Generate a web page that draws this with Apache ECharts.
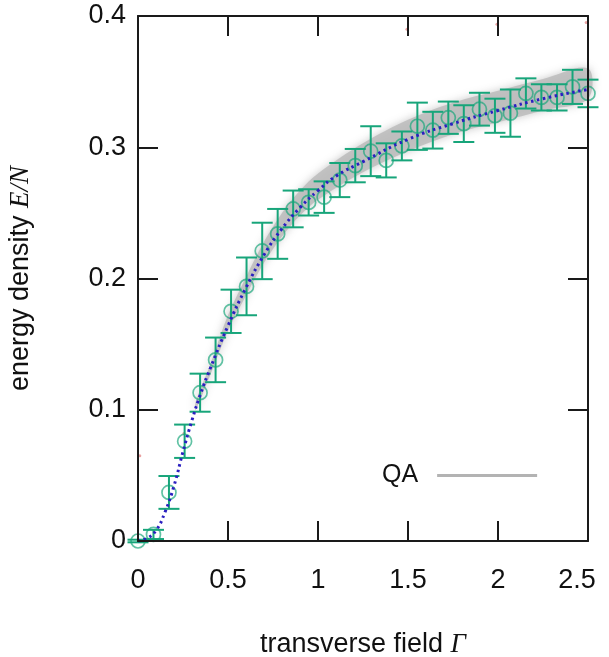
<!DOCTYPE html>
<html>
<head>
<meta charset="utf-8">
<script src="https://cdn.jsdelivr.net/npm/echarts@6/dist/echarts.min.js"></script>
<style>
  html, body { margin: 0; padding: 0; background: #fff; }
  #chart { width: 609px; height: 657px; }
</style>
</head>
<body>
<div id="chart"></div>
<script>
// Transverse field values of the sampled points
const fieldX = [0, 0.086, 0.172, 0.259, 0.345, 0.431, 0.517, 0.603, 0.690, 0.776,
  0.862, 0.948, 1.034, 1.121, 1.207, 1.293, 1.379, 1.466, 1.552, 1.638,
  1.724, 1.810, 1.897, 1.983, 2.069, 2.155, 2.241, 2.328, 2.414, 2.5];
// Measured energy density E/N and its uncertainty
const energy = [0, 0.005, 0.037, 0.076, 0.113, 0.138, 0.175, 0.194, 0.221, 0.234,
  0.253, 0.258, 0.262, 0.275, 0.286, 0.297, 0.290, 0.301, 0.316, 0.313,
  0.3225, 0.318, 0.329, 0.324, 0.326, 0.341, 0.338, 0.338, 0.346, 0.341];
const energyErr = [0.001, 0.0035, 0.0125, 0.0127, 0.0145, 0.017, 0.0165, 0.022, 0.0215, 0.019,
  0.014, 0.010, 0.012, 0.013, 0.0127, 0.019, 0.013, 0.011, 0.018, 0.014,
  0.0123, 0.014, 0.0125, 0.013, 0.018, 0.0115, 0.010, 0.010, 0.013, 0.0105];

// Reference curve (blue dotted)
const curveX = [0, 0.05, 0.1, 0.15, 0.2, 0.25, 0.3, 0.35, 0.4, 0.5, 0.6, 0.7, 0.8, 0.9,
  1.0, 1.1, 1.25, 1.5, 1.75, 2.0, 2.25, 2.5];
const curveY = [0, 0.002, 0.008, 0.022, 0.042, 0.068, 0.092, 0.113, 0.131, 0.164, 0.193, 0.218, 0.238, 0.254,
  0.267, 0.278, 0.289, 0.306, 0.318, 0.328, 0.337, 0.344];

// QA spread (gray band): lower and upper edges
const qaX  = [0.32, 0.4, 0.5, 0.6, 0.7, 0.8, 0.9, 1.0, 1.25, 1.5, 1.75, 2.0, 2.25, 2.5];
const qaLo = [0.100, 0.126, 0.160, 0.187, 0.212, 0.232, 0.248, 0.260, 0.281, 0.297, 0.310, 0.319, 0.328, 0.337];
const qaHi = [0.106, 0.134, 0.172, 0.201, 0.228, 0.250, 0.267, 0.280, 0.303, 0.321, 0.334, 0.343, 0.352, 0.360];

// Stray points of a further data set
const strayX = [0.01, 0.255, 1.494, 1.994, 2.49];
const strayY = [0.065, 0.082, 0.390, 0.3937, 0.395];

// Axis ticks
const xTicks = [0, 0.5, 1, 1.5, 2, 2.5];
const yTicks = [0, 0.1, 0.2, 0.3, 0.4];

const green = '#17a57a';
const blue = '#2a1fc0';
const frame = '#1a1a1a';
const qaGray = '#b3b3b3';
const fontMain = 'Liberation Sans';

const errData = fieldX.map((x, i) => [x, energy[i] - energyErr[i], energy[i] + energyErr[i]]);
const pointData = fieldX.map((x, i) => [x, energy[i]]);
const curveData = curveX.map((x, i) => [x, curveY[i]]);
const strayData = strayX.map((x, i) => [x, strayY[i]]);

const chart = echarts.init(document.getElementById('chart'), null, { renderer: 'canvas' });

const axisCommon = {
  axisLine: { show: true, onZero: false, lineStyle: { color: frame, width: 2 } },
  axisTick: { show: true, inside: true, length: 20, lineStyle: { color: frame, width: 2 } },
  splitLine: { show: false },
  z: 10
};

const titleStyle = {
  fontFamily: fontMain, fontSize: 27, color: '#111',
  rich: { it: { fontFamily: 'Liberation Serif', fontStyle: 'italic', fontSize: 27, color: '#111' } }
};

chart.setOption({
  animation: false,
  backgroundColor: '#fff',
  grid: { left: 138, right: 21, top: 16, bottom: 116, outerBoundsMode: 'none' },
  legend: {
    left: 377, top: 458,
    align: 'right',
    itemWidth: 100, itemHeight: 3,
    itemGap: 0,
    selectedMode: false,
    itemStyle: { color: qaGray },
    textStyle: { fontFamily: fontMain, fontSize: 25, color: '#111', padding: [0, 14, 0, 0] },
    data: [{ name: 'QA', icon: 'rect', itemStyle: { color: qaGray, opacity: 1 } }]
  },
  xAxis: [
    Object.assign({}, axisCommon, {
      type: 'value', min: xTicks[0], max: xTicks[xTicks.length - 1], interval: 0.5,
      position: 'bottom',
      name: 'transverse field {it|Γ}',
      nameLocation: 'middle', nameGap: 90,
      nameTextStyle: titleStyle,
      axisLabel: {
        margin: 26, fontFamily: fontMain, fontSize: 27, color: '#111',
        formatter: v => (v === xTicks[xTicks.length - 1] ? '{last|' + v + '}' : String(v)),
        rich: { last: { fontFamily: fontMain, fontSize: 27, color: '#111', padding: [0, 22, 0, 0] } }
      }
    }),
    Object.assign({}, axisCommon, {
      type: 'value', min: xTicks[0], max: xTicks[xTicks.length - 1], interval: 0.5,
      position: 'top', axisLabel: { show: false }
    })
  ],
  yAxis: [
    Object.assign({}, axisCommon, {
      type: 'value', min: yTicks[0], max: yTicks[yTicks.length - 1], interval: 0.1,
      position: 'left',
      name: 'energy density {it|E/N}',
      nameLocation: 'middle', nameGap: 104,
      nameTextStyle: titleStyle,
      axisLabel: { margin: 12, fontFamily: fontMain, fontSize: 27, color: '#111' }
    }),
    Object.assign({}, axisCommon, {
      type: 'value', min: yTicks[0], max: yTicks[yTicks.length - 1], interval: 0.1,
      position: 'right', axisLabel: { show: false }
    })
  ],
  series: [
    {
      // Gray QA band drawn as one smooth polygon through the axis scales
      name: 'QA', type: 'custom', data: [[qaX[0], qaLo[0]]], silent: true, z: 1,
      itemStyle: { color: qaGray },
      renderItem: function (params, api) {
        const upper = qaX.map((x, i) => api.coord([x, qaHi[i]]));
        const lower = qaX.map((x, i) => api.coord([x, qaLo[i]])).reverse();
        return {
          type: 'polygon',
          shape: { points: upper.concat(lower), smooth: 0.35 },
          style: { fill: 'rgba(188,188,188,0.85)', shadowBlur: 8, shadowColor: 'rgba(185,185,185,0.9)' }
        };
      }
    },
    {
      name: 'stray', type: 'scatter', data: strayData, symbolSize: 3, silent: true,
      itemStyle: { color: 'rgba(215,90,90,0.7)' }, z: 2
    },
    {
      name: 'error', type: 'custom', data: errData, silent: true, z: 3,
      renderItem: function (params, api) {
        const x = api.value(0);
        const lo = api.coord([x, api.value(1)]);
        const hi = api.coord([x, api.value(2)]);
        const hw = 10.5;
        const st = { stroke: green, lineWidth: 2 };
        return {
          type: 'group',
          children: [
            { type: 'line', shape: { x1: lo[0], y1: lo[1], x2: hi[0], y2: hi[1] }, style: st },
            { type: 'line', shape: { x1: lo[0] - hw, y1: lo[1], x2: lo[0] + hw, y2: lo[1] }, style: st },
            { type: 'line', shape: { x1: hi[0] - hw, y1: hi[1], x2: hi[0] + hw, y2: hi[1] }, style: st }
          ]
        };
      }
    },
    {
      name: 'energy', type: 'scatter', data: pointData, symbol: 'circle', symbolSize: 14, silent: true,
      itemStyle: { color: 'rgba(0,0,0,0)', borderColor: 'rgba(23,165,122,0.85)', borderWidth: 1.7 }, z: 4
    },
    {
      name: 'curve', type: 'line', data: curveData, smooth: true, symbol: 'none', silent: true,
      lineStyle: { color: blue, width: 3, type: [2.5, 3.5] }, z: 5
    }
  ]
});
</script>
</body>
</html>
